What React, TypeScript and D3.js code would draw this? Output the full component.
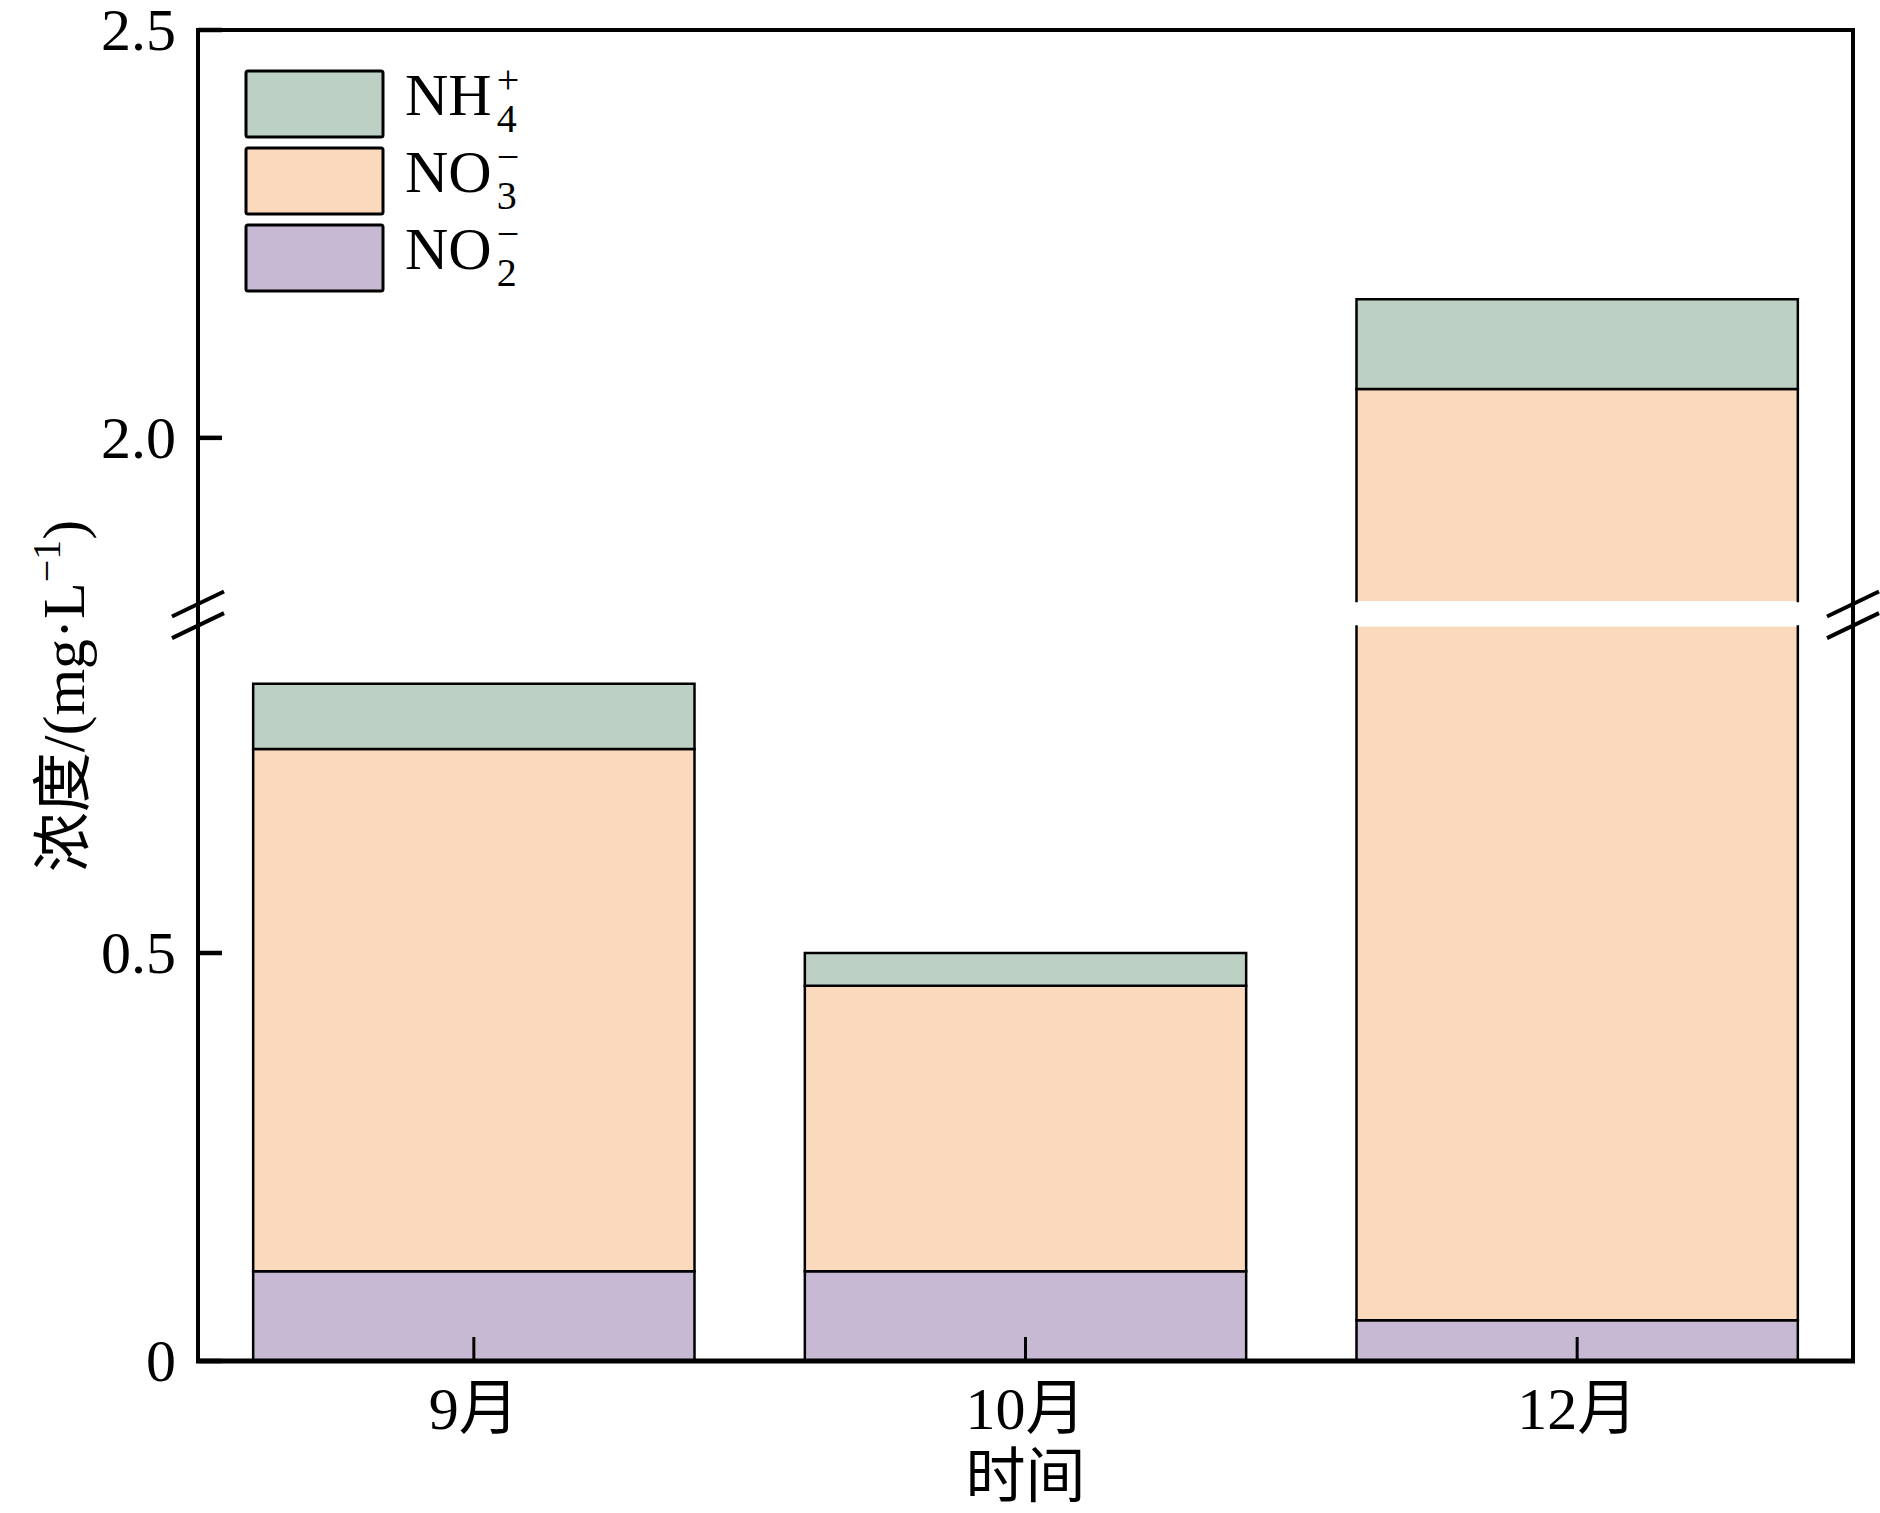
import React from "react";
import * as d3 from "d3";

// ---- data ----
const months = ["9月", "10月", "12月"];
const no2Values = [0.11, 0.11, 0.05];
const no3Values = [0.64, 0.35, 2.01];
const nh4Values = [0.08, 0.04, 0.11];

const seriesKeys = ["no2", "no3", "nh4"];
const seriesColors: Record<string, string> = {
  nh4: "#BCD0C4",
  no3: "#FAD9BD",
  no2: "#C7B9D3",
};
const legendItems = [
  { key: "nh4", base: "NH", sub: "4", sup: "+" },
  { key: "no3", base: "NO", sub: "3", sup: "−" },
  { key: "no2", base: "NO", sub: "2", sup: "−" },
];

const lowerDomain = [0, 0.9];
const upperDomain = [1.8, 2.5];
const lowerTicks = [0, 0.5];
const upperTicks = [2.0, 2.5];
const tickLabel: Record<string, string> = { "0": "0", "0.5": "0.5", "2": "2.0", "2.5": "2.5" };

const yTitle = "浓度/(mg·L";
const xTitle = "时间";

// ---- layout ----
const W = 1880;
const H = 1513;
const left = 198;
const right = 1853;
const top = 30;
const bottom = 1361;
const breakLowTop = 626.6;
const breakHighBottom = 601;

const SERIF = "'Liberation Serif', 'Times New Roman', 'Noto Sans CJK SC', serif";

export default function App() {
  const x = d3.scaleBand<string>().domain(months).range([left, right]).paddingInner(0.2).paddingOuter(0.1);
  const yLow = d3.scaleLinear().domain(lowerDomain).range([bottom, breakLowTop]);
  const yHigh = d3.scaleLinear().domain(upperDomain).range([breakHighBottom, top]);

  const table = months.map((m, i) => ({ month: m, no2: no2Values[i], no3: no3Values[i], nh4: nh4Values[i] }));
  const stacked = d3.stack<any>().keys(seriesKeys)(table);

  const bw = x.bandwidth();

  const pieces = (a: number, b: number) => {
    const out: { yb: number; yt: number; cutB: boolean; cutT: boolean }[] = [];
    if (b <= lowerDomain[1]) out.push({ yb: yLow(a), yt: yLow(b), cutB: false, cutT: false });
    else if (a >= upperDomain[0]) out.push({ yb: yHigh(a), yt: yHigh(b), cutB: false, cutT: false });
    else {
      out.push({ yb: yLow(a), yt: yLow(lowerDomain[1]), cutB: false, cutT: true });
      out.push({ yb: yHigh(upperDomain[0]), yt: yHigh(b), cutB: true, cutT: false });
    }
    return out;
  };

  const bars: React.ReactNode[] = [];
  stacked.forEach((layer) => {
    layer.forEach((d, i) => {
      const x0 = x(months[i])!;
      const x1 = x0 + bw;
      pieces(d[0], d[1]).forEach((p, j) => {
        let path = `M${x0},${p.yb}V${p.yt}M${x1},${p.yb}V${p.yt}`;
        if (!p.cutT) path += `M${x0},${p.yt}H${x1}`;
        if (!p.cutB) path += `M${x0},${p.yb}H${x1}`;
        bars.push(
          <g key={`${layer.key}-${i}-${j}`}>
            <rect x={x0} y={p.yt} width={bw} height={p.yb - p.yt} fill={seriesColors[layer.key]} />
            <path d={path} stroke="#000" strokeWidth={2.5} fill="none" strokeLinecap="square" />
          </g>
        );
      });
    });
  });

  const breakY1 = breakHighBottom + 3;
  const breakY2 = breakLowTop - 1;
  const slash = (cx: number, cy: number, k: string) => (
    <line key={k} x1={cx - 26} y1={cy + 12.5} x2={cx + 26} y2={cy - 12.5} stroke="#000" strokeWidth={4} />
  );

  const fs = 60;
  const lfs = 60;
  const sfs = 40;

  return (
    <svg width={W} height={H} style={{ position: "absolute", left: 0, top: 0, background: "#fff" }} fontFamily={SERIF}>
      <rect x={0} y={0} width={W} height={H} fill="#fff" />
      {bars}

      {/* x ticks */}
      {months.map((m) => (
        <line key={"xt" + m} x1={x(m)! + bw / 2} x2={x(m)! + bw / 2} y1={bottom} y2={bottom - 24} stroke="#000" strokeWidth={3} />
      ))}

      {/* frame */}
      <rect x={left} y={top} width={right - left} height={bottom - top} fill="none" stroke="#000" strokeWidth={4} />
      <line x1={left - 2} x2={right + 2} y1={bottom} y2={bottom} stroke="#000" strokeWidth={5} />

      {/* y ticks */}
      {lowerTicks.map((t) => (
        <g key={"yl" + t}>
          <line x1={left} x2={left + 24} y1={yLow(t)} y2={yLow(t)} stroke="#000" strokeWidth={4.5} />
          <text x={176} y={yLow(t) + 20} fontSize={fs} textAnchor="end">{tickLabel[String(t)]}</text>
        </g>
      ))}
      {upperTicks.map((t) => (
        <g key={"yu" + t}>
          <line x1={left} x2={left + 24} y1={yHigh(t)} y2={yHigh(t)} stroke="#000" strokeWidth={4.5} />
          <text x={176} y={yHigh(t) + 20} fontSize={fs} textAnchor="end">{tickLabel[String(t)]}</text>
        </g>
      ))}

      {/* break marks */}
      {slash(left, breakY1, "b1")}
      {slash(left, breakY2, "b2")}
      {slash(right, breakY1, "b3")}
      {slash(right, breakY2, "b4")}

      {/* x labels */}
      {months.map((m) => (
        <text key={"xl" + m} x={x(m)! + bw / 2} y={1429} fontSize={fs} textAnchor="middle">{m}</text>
      ))}
      <text x={x(months[1])! + bw / 2} y={1497} fontSize={fs} textAnchor="middle">{xTitle}</text>

      {/* y title */}
      <text transform={`translate(84,696) rotate(-90)`} fontSize={fs} textAnchor="middle">
        {yTitle}
        <tspan fontSize={40} dy={-24}>−1</tspan>
        <tspan dy={24}>)</tspan>
      </text>

      {/* legend */}
      {legendItems.map((it, i) => {
        const by = 71 + 77 * i;
        const tx = 405;
        const base = by + 44;
        const sx = tx + 1.444 * lfs + 5;
        return (
          <g key={"lg" + it.key}>
            <rect x={246} y={by} width={137} height={66} rx={2} fill={seriesColors[it.key]} stroke="#000" strokeWidth={3} />
            <text x={tx} y={base} fontSize={lfs}>{it.base}</text>
            <text x={sx} y={base + 17} fontSize={sfs}>{it.sub}</text>
            <text x={sx} y={base - 22} fontSize={sfs}>{it.sup}</text>
          </g>
        );
      })}
    </svg>
  );
}
